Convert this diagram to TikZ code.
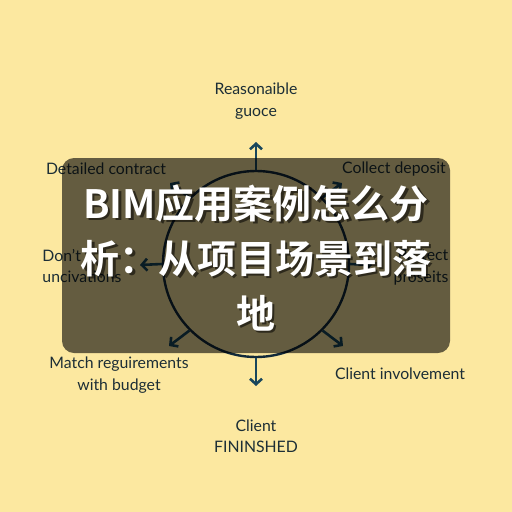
\documentclass[tikz,border=0pt]{standalone}
\usepackage{fontspec}
\setmainfont{Lato}
\newfontfamily\cjkbold[BoldFont={Noto Sans CJK SC Bold}]{Noto Sans CJK SC}
\usetikzlibrary{arrows.meta}
\definecolor{bgyellow}{RGB}{252,232,160}
\definecolor{inkcol}{RGB}{28,46,54}
\definecolor{ringcol}{RGB}{18,42,58}
\definecolor{arrowcol}{RGB}{24,70,92}
\tikzset{
  lbl/.style={text=inkcol, font=\fontsize{15.8}{21.5}\selectfont, align=center, inner sep=0pt},
  outarrow/.style={draw=arrowcol, line width=2.6pt, -{Straight Barb[length=5.5pt,width=12pt]}},
  ring/.style={draw=ringcol, line width=2.4pt},
  titletext/.style={font=\cjkbold\bfseries\fontsize{39}{55}\selectfont, align=center, inner sep=0pt}
}
\begin{document}
\begin{tikzpicture}[x=1pt,y=-1pt]
\fill[bgyellow] (0,0) rectangle (512,512);
\useasboundingbox (0,0) rectangle (512,512);
% ring
\node[ring, circle, minimum size=186pt, inner sep=0pt] (c) at (256,264) {};
% arrow ends
\coordinate (tTop) at (256,142);
\coordinate (tBot) at (256,386);
\coordinate (tL) at (140,265);
\coordinate (tR) at (372,265);
\coordinate (tTL) at (170,183);
\coordinate (tTR) at (342,183);
\coordinate (tBL) at (169,346);
\coordinate (tBR) at (343,346);
\draw[outarrow] (c.north) -- (tTop);
\draw[outarrow] (c.south) -- (tBot);
\draw[outarrow] (c.west) -- (tL);
\draw[outarrow] (c.east) -- (tR);
\draw[outarrow] (c.north west) -- (tTL);
\draw[outarrow] (c.north east) -- (tTR);
\draw[outarrow] (c.south west) -- (tBL);
\draw[outarrow] (c.south east) -- (tBR);
% labels
\node[lbl] (l1) at (256,101) {Reasonaible\\guoce};
\node[lbl] (l2) at (106,169) {Detailed contract};
\node[lbl] (l3) at (394,169) {Collect deposit};
\node[lbl, align=left] (l4) at (82,266) {Don't\\uncivations};
\node[lbl, align=right] (l5) at (421,267) {Protect\\proseits};
\node[lbl] (l6) at (119,375) {Match reguirements\\with budget};
\node[lbl] (l7) at (400,374) {Client involvement};
\node[lbl] (l8) at (256,436) {Client\\FININSHED};
% overlay
\fill[black, opacity=0.6, rounded corners=12pt] (62,158) rectangle (450,353);
\node[titletext, text=black, opacity=0.55] (tsh) at (258.5,260.5) {BIM应用案例怎么分\\析：从项目场景到落\\地};
\node[titletext, text=white] (title) at (256,258) {BIM应用案例怎么分\\析：从项目场景到落\\地};
\end{tikzpicture}
\end{document}
